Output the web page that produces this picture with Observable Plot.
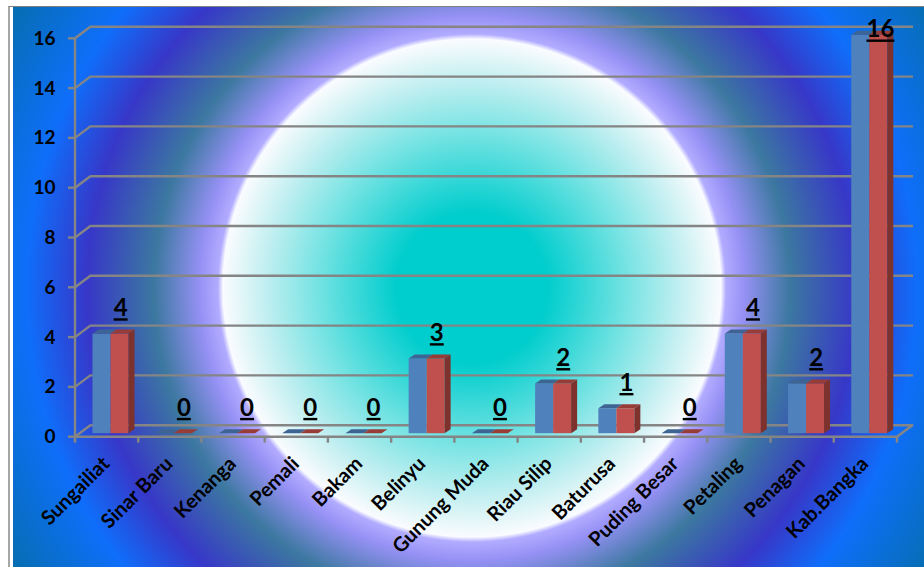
<!DOCTYPE html>
<html>
<head>
<meta charset="utf-8">
<script src="https://cdn.jsdelivr.net/npm/d3@7"></script>
<script src="https://cdn.jsdelivr.net/npm/@observablehq/plot@0.6"></script>
<style>
html,body{margin:0;padding:0;background:#fff;overflow:hidden;width:924px;height:567px}
#frame{position:absolute;left:8px;top:6px;right:0;bottom:0;border-left:2px solid #a6a6a6;border-top:1px solid #808080;box-sizing:border-box}
#bg{position:absolute;left:13px;top:7px;right:0;bottom:0;
background:radial-gradient(circle 620px at 459px 281px,
 rgb(0,205,205) 0px, rgb(0,205,205) 75px, rgb(125,228,228) 160px, rgb(190,238,240) 205px, rgb(245,250,252) 245px, rgb(250,252,255) 249px,
 rgb(178,172,255) 254px, rgb(150,145,245) 272px, rgb(60,120,160) 318px, rgb(55,55,200) 385px, rgb(15,110,250) 445px, rgb(5,110,175) 540px, rgb(0,105,150) 620px)}
#chart{position:absolute;left:0;top:0}
#chart svg{background:transparent;display:block}
.vlabel text{text-decoration:underline}
</style>
</head>
<body>
<div id="frame"></div>
<div id="bg"></div>
<div id="chart"></div>
<script>
const categories = ["Sungailiat","Sinar Baru","Kenanga","Pemali","Bakam","Belinyu","Gunung Muda","Riau Silip","Baturusa","Puding Besar","Petaling","Penagan","Kab.Bangka"];
const values = [4,0,0,0,0,3,0,2,1,0,4,2,16];
const yTicks = [0,2,4,6,8,10,12,14,16];
const rows = categories.map((c,i)=>({c, v:values[i]}));

const WALL_X = 16, WALL_Y = -12;          // depth of the chart box
const BAR_X = 6, BAR_Y = -4, BASE_DY = -3.5; // depth of each bar
const L1 = 17.5, L2 = 35.5, L3 = 53.5;    // inside a band

const ns = "http://www.w3.org/2000/svg";
function poly(g, pts, fill){
  const p = document.createElementNS(ns,"polygon");
  p.setAttribute("points", pts.map(d=>d.join(",")).join(" "));
  p.setAttribute("fill", fill);
  g.appendChild(p);
}
function seg(g, a, b){
  const l = document.createElementNS(ns,"line");
  l.setAttribute("x1",a[0]);l.setAttribute("y1",a[1]);l.setAttribute("x2",b[0]);l.setAttribute("y2",b[1]);
  l.setAttribute("stroke","#858585");l.setAttribute("stroke-width",2.4);
  g.appendChild(l);
}
function boxMark(index,{x,y}){
  const g = document.createElementNS(ns,"g");
  const x0 = x(categories[0]), step = x.bandwidth(), x1 = x0 + step*categories.length;
  for(const t of yTicks){
    seg(g,[x0,y(t)],[x0+WALL_X,y(t)+WALL_Y]);
    seg(g,[x0-7,y(t)],[x0,y(t)]);
  }
  seg(g,[x0,y(16)],[x0,y(0)+5]);
  seg(g,[x0,y(0)],[x1,y(0)]);
  seg(g,[x1,y(0)],[x1+WALL_X,y(0)+WALL_Y]);
  for(let i=0;i<=categories.length;i++) seg(g,[x0+i*step,y(0)],[x0+i*step,y(0)+6]);
  return g;
}
function depthMark(index,{x,y}){
  const g = document.createElementNS(ns,"g");
  for(const r of rows){
    const a = x(r.c), t = y(r.v)+BASE_DY, b = y(0)+BASE_DY;
    poly(g,[[a+L1,t],[a+L2,t],[a+L2+BAR_X,t+BAR_Y],[a+L1+BAR_X,t+BAR_Y]],"rgb(62,100,148)");
    poly(g,[[a+L2,t],[a+L3,t],[a+L3+BAR_X,t+BAR_Y],[a+L2+BAR_X,t+BAR_Y]],"rgb(152,60,56)");
    if(r.v>0) poly(g,[[a+L3,t],[a+L3+BAR_X,t+BAR_Y],[a+L3+BAR_X,b+BAR_Y],[a+L3,b]],"rgb(125,50,46)");
  }
  return g;
}

const step = (897-75)/13;
const nonZero = rows.filter(d=>d.v>0);
const font = "Lato, 'Open Sans', sans-serif";
const chart = Plot.plot({
  width:924, height:567,
  marginLeft:75, marginRight:27, marginTop:38, marginBottom:130,
  style:{background:"transparent", fontFamily:font, color:"#000"},
  x:{domain:categories, padding:0, round:false, label:null},
  y:{domain:[0,16], range:[436.7,38.3], label:null},
  marks:[
    Plot.ruleY(yTicks,{stroke:"#858585",strokeWidth:2.4,dx:WALL_X,dy:WALL_Y}),
    boxMark,
    Plot.axisY(yTicks,{tickSize:0,tickPadding:20,fontSize:19,fontWeight:700,label:null,fill:"#000"}),
    Plot.axisX({tickSize:0,tickRotate:-45,tickPadding:14,fontSize:20,fontWeight:700,label:null,fill:"#000",dx:-1,dy:9}),
    Plot.barY(nonZero,{x:"c",y:"v",fill:"rgb(79,129,189)",dy:BASE_DY,insetLeft:L1,insetRight:step-L2}),
    Plot.barY(nonZero,{x:"c",y:"v",fill:"rgb(192,80,77)",dy:BASE_DY,insetLeft:L2,insetRight:step-L3}),
    depthMark,
    Plot.text(rows.filter(d=>d.v<16),{x:"c",y:"v",text:d=>String(d.v),dx:13.5,dy:-29,fontSize:24,fontWeight:700,fill:"#000",className:"vlabel"}),
    Plot.text(rows.filter(d=>d.v==16),{x:"c",y:"v",text:d=>String(d.v),dx:14.5,dy:-9,fontSize:24,fontWeight:700,fill:"#000",className:"vlabel"})
  ]
});
document.getElementById("chart").appendChild(chart);
</script>
</body>
</html>
